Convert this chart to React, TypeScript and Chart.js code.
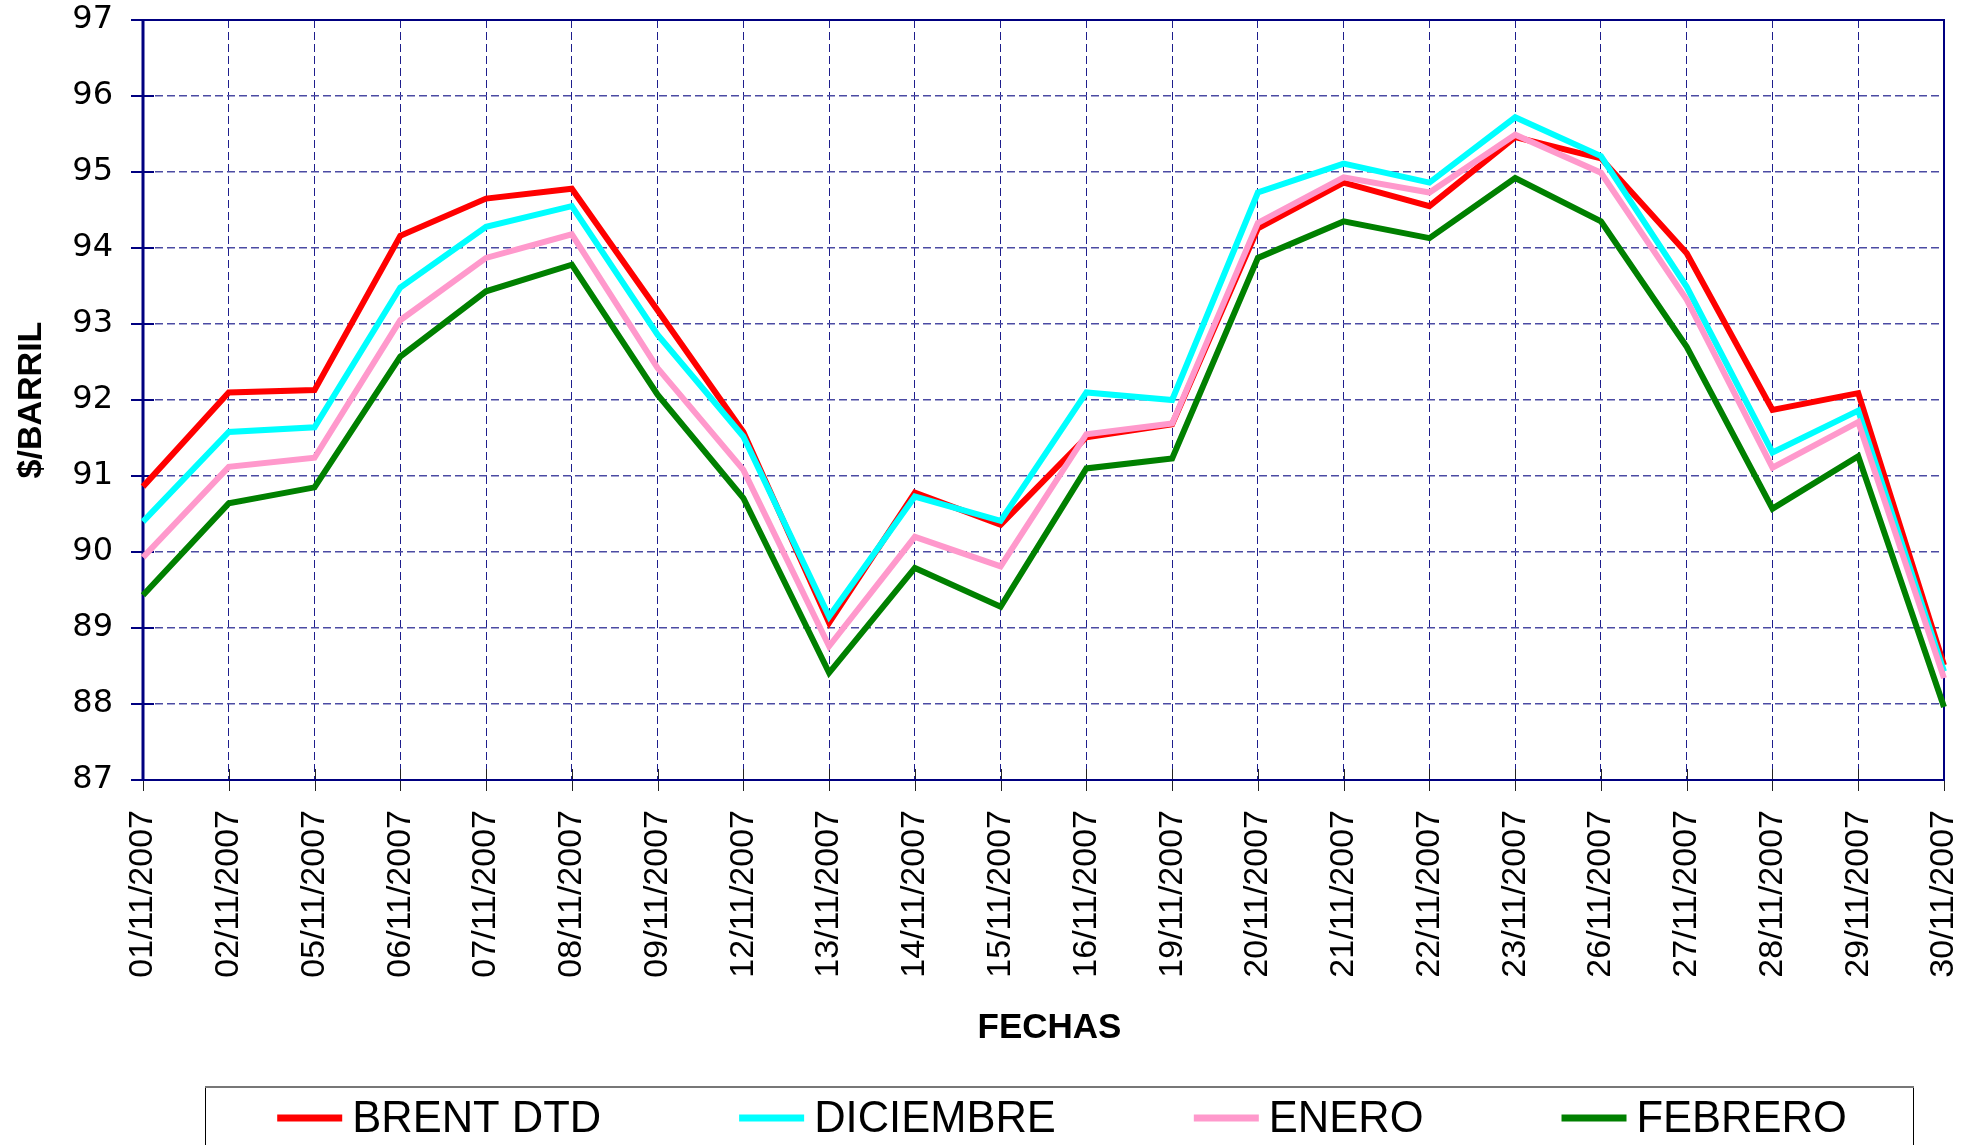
import React, { useEffect, useRef } from 'react';
import { Chart, registerables } from 'chart.js';

Chart.register(...registerables);

const FECHAS = [
  '01/11/2007', '02/11/2007', '05/11/2007', '06/11/2007', '07/11/2007', '08/11/2007',
  '09/11/2007', '12/11/2007', '13/11/2007', '14/11/2007', '15/11/2007', '16/11/2007',
  '19/11/2007', '20/11/2007', '21/11/2007', '22/11/2007', '23/11/2007', '26/11/2007',
  '27/11/2007', '28/11/2007', '29/11/2007', '30/11/2007',
];

const BRENT_DTD = [90.86, 92.10, 92.13, 94.16, 94.65, 94.78, 93.18, 91.58, 89.07, 90.78, 90.36, 91.51, 91.68, 94.26, 94.86, 94.55, 95.46, 95.18, 93.93, 91.87, 92.09, 88.51];
const DICIEMBRE = [90.40, 91.58, 91.64, 93.48, 94.28, 94.55, 92.86, 91.52, 89.15, 90.73, 90.41, 92.10, 92.00, 94.73, 95.11, 94.86, 95.72, 95.21, 93.49, 91.31, 91.86, 88.43];
const ENERO = [89.93, 91.12, 91.24, 93.05, 93.87, 94.18, 92.42, 91.08, 88.76, 90.20, 89.81, 91.55, 91.69, 94.33, 94.93, 94.73, 95.49, 94.99, 93.32, 91.11, 91.71, 88.34];
const FEBRERO = [89.43, 90.64, 90.85, 92.57, 93.43, 93.78, 92.07, 90.71, 88.41, 89.79, 89.28, 91.10, 91.23, 93.87, 94.35, 94.13, 94.92, 94.35, 92.70, 90.57, 91.26, 87.96];

const SERIES_NAMES = ['BRENT DTD', 'DICIEMBRE', 'ENERO', 'FEBRERO'];
const SERIES_COLORS = ['#FF0000', '#00FFFF', '#FF99CC', '#008000'];

const X_TITLE = 'FECHAS';
const Y_TITLE = '$/BARRIL';

const Y_MIN = 87;
const Y_MAX = 97;
const Y_STEP = 1;

const FONT = "'Liberation Sans', Arial, Helvetica, sans-serif";
const FONT_WIDE = "'DejaVu Sans', 'Liberation Sans', Arial, sans-serif";
const NAVY = '#000080';

const frameAndTicks = {
  id: 'frameAndTicks',
  beforeDatasetsDraw(chart: any) {
    const { ctx, chartArea, scales } = chart;
    const { left, right, top, bottom } = chartArea;
    ctx.save();
    ctx.strokeStyle = NAVY;
    ctx.lineWidth = 2;
    scales.y.ticks.forEach((t: any) => {
      const py = Math.round(scales.y.getPixelForValue(t.value));
      ctx.beginPath();
      ctx.moveTo(left - 12, py);
      ctx.lineTo(left + 11, py);
      ctx.stroke();
    });
    ctx.strokeStyle = '#222';
    ctx.lineWidth = 1;
    scales.x.ticks.forEach((_t: any, i: number) => {
      const px = Math.round(scales.x.getPixelForTick(i)) + 0.5;
      ctx.beginPath();
      ctx.moveTo(px, bottom - 11);
      ctx.lineTo(px, bottom + 11);
      ctx.stroke();
    });
    ctx.strokeStyle = NAVY;
    ctx.lineWidth = 2;
    ctx.strokeRect(left, top, right - left, bottom - top);
    ctx.lineWidth = 3;
    ctx.beginPath();
    ctx.moveTo(left, top);
    ctx.lineTo(left, bottom);
    ctx.stroke();
    ctx.restore();
  },
};

const extrasAndLegend = {
  id: 'extrasAndLegend',
  afterDraw(chart: any) {
    const { ctx, chartArea } = chart;
    ctx.save();
    // x-axis title
    ctx.font = `bold 35px ${FONT}`;
    ctx.fillStyle = '#000';
    ctx.textAlign = 'center';
    ctx.textBaseline = 'middle';
    ctx.fillText(X_TITLE, (chartArea.left + chartArea.right) / 2 + 6, 1028);

    // legend box
    ctx.strokeStyle = '#000';
    ctx.lineWidth = 1;
    ctx.strokeRect(205.5, 1087.5, 1708, 80);
    ctx.strokeStyle = '#777';
    ctx.lineWidth = 2;
    ctx.beginPath();
    ctx.moveTo(205, 1087);
    ctx.lineTo(1914, 1087);
    ctx.stroke();

    ctx.font = `43.5px ${FONT}`;
    const lineW = 65;
    const gapLT = 10;
    const gapItems = 138;
    const ds = chart.data.datasets;
    const widths = ds.map((d: any) => lineW + gapLT + ctx.measureText(d.label).width);
    const total = widths.reduce((a: number, b: number) => a + b, 0) + gapItems * (ds.length - 1);
    let x = 1062 - total / 2;
    const cy = 1118;
    ds.forEach((d: any, i: number) => {
      ctx.fillStyle = d.borderColor;
      ctx.fillRect(x, cy - 3.5, lineW, 7);
      ctx.fillStyle = '#000';
      ctx.textBaseline = 'alphabetic';
      ctx.textAlign = 'left';
      ctx.fillText(d.label, x + lineW + gapLT, 1132);
      x += widths[i] + gapItems;
    });
    ctx.restore();
  },
};

export default function App() {
  const canvasRef = useRef<HTMLCanvasElement | null>(null);

  useEffect(() => {
    document.body.style.margin = '0';
    const canvas = canvasRef.current;
    if (!canvas) return;
    const values = [BRENT_DTD, DICIEMBRE, ENERO, FEBRERO];
    const chart = new Chart(canvas, {
      type: 'line',
      data: {
        labels: FECHAS,
        datasets: values.map((v, i) => ({
          label: SERIES_NAMES[i],
          data: v,
          borderColor: SERIES_COLORS[i],
          backgroundColor: SERIES_COLORS[i],
          borderWidth: 6,
          pointRadius: 0,
          pointHoverRadius: 0,
          tension: 0,
          fill: false,
          order: 3 - i,
          borderJoinStyle: 'miter' as const,
        })),
      },
      options: {
        responsive: false,
        animation: false,
        devicePixelRatio: 1,
        layout: { padding: { left: 0, right: 31, top: 20, bottom: 90 } },
        plugins: {
          legend: { display: false },
          tooltip: { enabled: false },
          title: { display: false },
        },
        scales: {
          x: {
            type: 'category',
            offset: false,
            grid: { color: '#1e1e8c', lineWidth: 1, drawTicks: false },
            border: { display: false, dash: [8, 4] },
            ticks: {
              autoSkip: false,
              maxRotation: 90,
              minRotation: 90,
              padding: 30,
              color: '#000',
              font: { family: FONT, size: 34 },
            },
            title: { display: false },
            afterFit(scale: any) {
              scale.height = 275;
              scale.paddingLeft = 0;
              scale.paddingRight = 0;
            },
          },
          y: {
            min: Y_MIN,
            max: Y_MAX,
            ticks: {
              stepSize: Y_STEP,
              padding: 30,
              color: '#000',
              font: { family: FONT_WIDE, size: 32 },
            },
            grid: { color: '#4b4ba3', lineWidth: 1.5, drawTicks: false },
            border: { display: false, dash: [8, 4] },
            title: {
              display: true,
              text: Y_TITLE,
              color: '#000',
              font: { family: FONT, size: 34, weight: 'bold' },
              padding: { top: 11, bottom: 0 },
            },
            afterFit(scale: any) {
              scale.width = 143;
              scale.paddingTop = 0;
              scale.paddingBottom = 0;
            },
          },
        },
      },
      plugins: [frameAndTicks, extrasAndLegend],
    });
    return () => chart.destroy();
  }, []);

  return (
    <div style={{ position: 'absolute', left: 0, top: 0, width: 1975, height: 1145, background: '#fff' }}>
      <canvas ref={canvasRef} width={1975} height={1145} style={{ width: 1975, height: 1145, display: 'block' }} />
    </div>
  );
}
